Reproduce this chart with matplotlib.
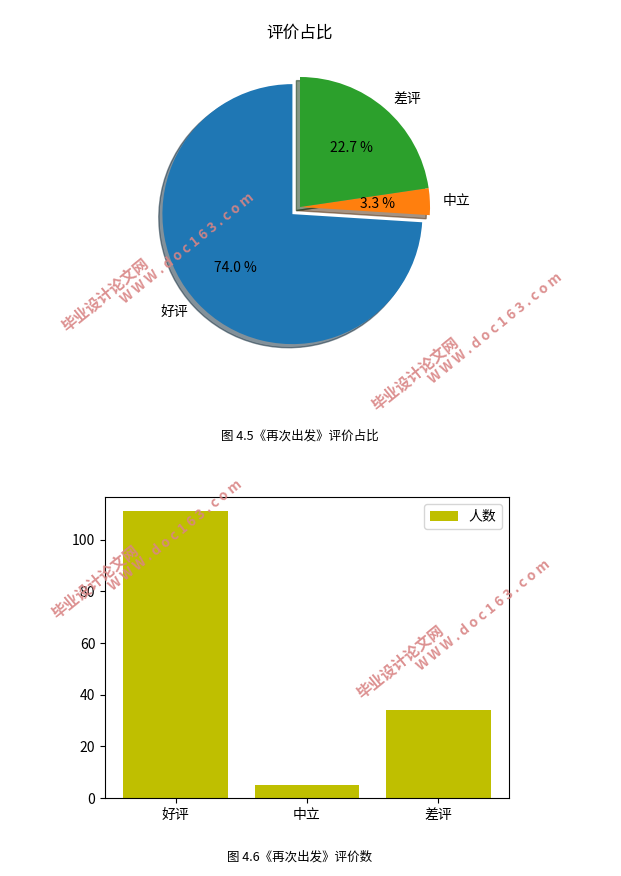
import matplotlib
matplotlib.use("Agg")
import matplotlib.pyplot as plt

plt.rcParams['font.family'] = ['Noto Sans CJK SC', 'DejaVu Sans']

categories = ['好评', '中立', '差评']
counts = [111, 5, 34]
pie_colors = ['#1f77b4', '#ff7f0e', '#2ca02c']
bar_color = '#bfbf00'
pie_title = '评价占比'
legend_label = '人数'
caption1 = '图 4.5《再次出发》评价占比'
caption2 = '图 4.6《再次出发》评价数'
wm_cn = '毕业设计论文网'
wm_en = 'W W W . d o c 1 6 3 . c o m'

W, H = 621, 876
fig = plt.figure(figsize=(W / 100, H / 100), dpi=100)

def fx(px):
    return px / W

def fy(py):
    return 1 - py / H

# ---- Pie chart ----
R = 130.0
cx, cy = 300.0, 207.0
half = 1.25 * R
ax1 = fig.add_axes([fx(cx - half), fy(cy + half), 2 * half / W, 2 * half / H])
ax1.pie(counts, labels=categories, colors=pie_colors, autopct='%1.1f %%',
        startangle=90, explode=(0.08, 0, 0), shadow=True,
        textprops={'fontsize': 10})
ax1.set_xlim(-1.25, 1.25)
ax1.set_ylim(-1.25, 1.25)
ax1.set_aspect('equal')
ax1.axis('off')
fig.text(fx(300), fy(33), pie_title, ha='center', va='center', fontsize=12)
fig.text(fx(300), fy(436), caption1, ha='center', va='center', fontsize=9)

# ---- Bar chart ----
left, right, top, bottom = 105, 509, 497, 798
ax2 = fig.add_axes([fx(left), fy(bottom), (right - left) / W, (bottom - top) / H])
ax2.bar(range(len(categories)), counts, color=bar_color, label=legend_label)
ax2.set_xticks(range(len(categories)))
ax2.set_xticklabels(categories)
ax2.tick_params(labelsize=10)
ax2.legend(loc='upper right', fontsize=10)
fig.text(fx(300), fy(857), caption2, ha='center', va='center', fontsize=9)

# ---- Watermarks ----
wm_color = '#d98585'
marks = [((105, 295), (187, 248)),
         ((415, 374), (495, 328)),
         ((95, 582), (175, 535)),
         ((400, 662), (483, 615))]
for (c1, c2) in marks:
    fig.text(fx(c1[0]), fy(c1[1]), wm_cn, ha='center', va='center', rotation=39,
             color=wm_color, fontsize=11, fontweight='bold', alpha=0.9, zorder=10)
    fig.text(fx(c2[0]), fy(c2[1]), wm_en, ha='center', va='center', rotation=39,
             color=wm_color, fontsize=10, fontweight='bold', alpha=0.9, zorder=10)

fig.savefig('out.png', dpi=100)
